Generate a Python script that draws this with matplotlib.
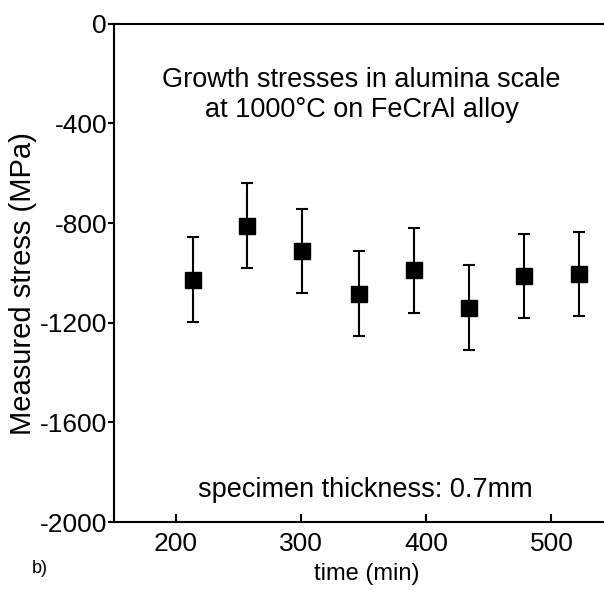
import matplotlib.pyplot as plt

plt.rcParams['font.family'] = ['Liberation Sans', 'DejaVu Sans']

# tempo (min) e sforzo misurato (MPa)
time_min = [214, 257, 301, 346, 390, 434, 478, 522]
stress = [-1028, -810, -912, -1084, -989, -1140, -1013, -1006]
err = [170, 170, 170, 170, 171, 170, 170, 168]

yticks = [0, -400, -800, -1200, -1600, -2000]
xticks = [200, 300, 400, 500]

fig = plt.figure(figsize=(6.04, 5.90), dpi=100)
ax = fig.add_axes([0.1887, 0.115, 0.8113, 0.845])

ax.errorbar(time_min, stress, yerr=err, fmt='s', color='black',
            markersize=11, elinewidth=1.5, capsize=4, capthick=1.5)

ax.set_xlim(150.5, 542)
ax.set_ylim(-2000, 0)
ax.set_yticks(yticks)
ax.set_yticklabels([str(v) for v in yticks])
ax.set_xticks(xticks)

ax.spines['right'].set_visible(False)
for s in ['left', 'bottom', 'top']:
    ax.spines[s].set_linewidth(1.5)

ax.tick_params(axis='y', direction='out', length=4, width=1.5, pad=1, labelsize=19)
ax.tick_params(axis='x', direction='in', length=6, width=1.5, pad=7, labelsize=19)

ax.set_ylabel('Measured stress (MPa)', fontsize=21)
ax.yaxis.set_label_coords(-0.157, 0.479)
ax.set_xlabel('time (min)', fontsize=17)
ax.xaxis.set_label_coords(0.516, -0.082)

ax.text(0.505, 0.886, 'Growth stresses in alumina scale', transform=ax.transAxes,
        ha='center', va='center', fontsize=19.5)
ax.text(0.505, 0.826, 'at 1000°C on FeCrAl alloy', transform=ax.transAxes,
        ha='center', va='center', fontsize=19.5)
ax.text(0.513, 0.064, 'specimen thickness: 0.7mm', transform=ax.transAxes,
        ha='center', va='center', fontsize=19.5)

fig.text(0.053, 0.037, 'b)', fontsize=13, ha='left', va='center')

fig.savefig('out.png', dpi=100)
